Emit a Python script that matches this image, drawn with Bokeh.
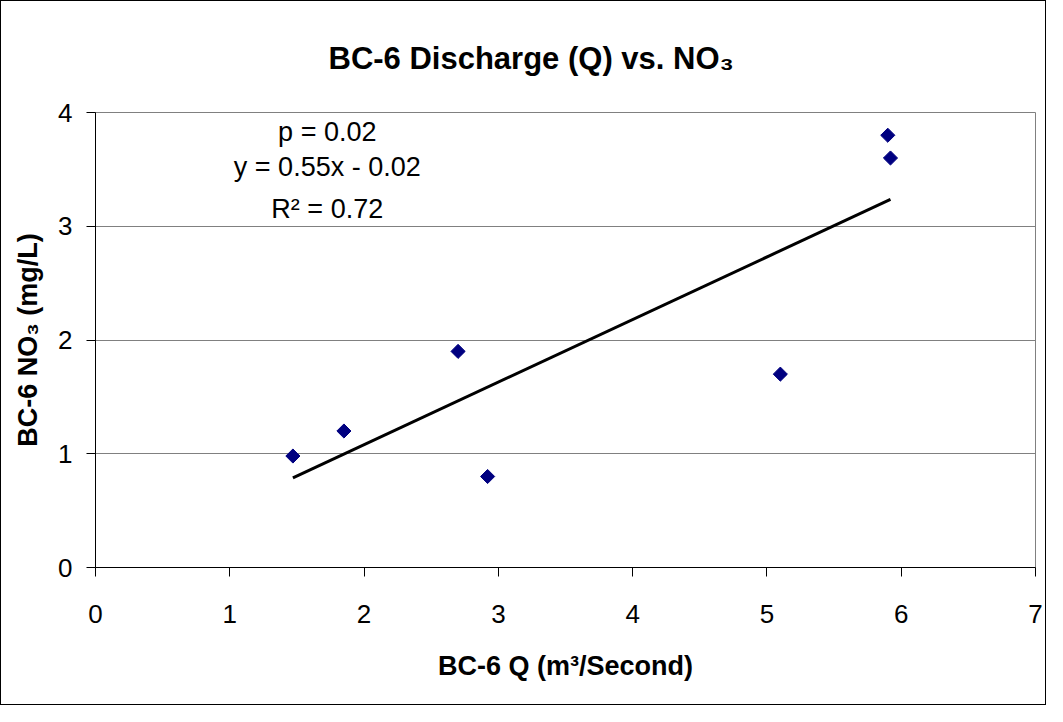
from bokeh.plotting import figure
from bokeh.models import Range1d, FixedTicker, Label, ColumnDataSource
from bokeh.embed import file_html
from bokeh.resources import INLINE
import math

# Data
discharge_q = [1.47, 1.85, 2.70, 2.92, 5.10, 5.90, 5.92]
no3_mgL = [0.98, 1.20, 1.90, 0.80, 1.70, 3.80, 3.60]
fit_slope = 0.55
fit_intercept = -0.02
stats_lines = ["p = 0.02", "y = 0.55x - 0.02", "R\u00b2 = 0.72"]
x_ticks = [0, 1, 2, 3, 4, 5, 6, 7]
y_ticks = [0, 1, 2, 3, 4]

FONT = "Liberation Sans"
W, H = 1046, 705

p = figure(width=W, height=H, output_backend="svg", toolbar_location=None,
           x_range=Range1d(0, 7), y_range=Range1d(0, 4),
           min_border_left=94, min_border_right=12, min_border_top=111, min_border_bottom=139)
p.styles = {"border": "1px solid black", "box-sizing": "border-box"}

p.title.text = "BC-6 Discharge (Q) vs. NO\u2083"
p.title.align = "left"
p.title.text_font = FONT
p.title.text_font_style = "bold"
p.title.text_font_size = "31px"
p.title.text_color = "black"
p.title.offset = 233
p.title.standoff = 74

p.background_fill_color = "white"
p.border_fill_color = "white"
p.outline_line_color = "#808080"
p.outline_line_width = 1

p.xgrid.visible = False
p.ygrid.grid_line_color = "#808080"
p.ygrid.grid_line_width = 1

for ax, ticks in ((p.xaxis[0], x_ticks), (p.yaxis[0], y_ticks)):
    ax.ticker = FixedTicker(ticks=ticks)
    ax.minor_tick_line_color = None
    ax.major_tick_in = 0
    ax.major_tick_out = 9
    ax.axis_line_color = "black"
    ax.major_tick_line_color = "black"
    ax.major_label_text_font = FONT
    ax.major_label_text_font_size = "26px"
    ax.major_label_text_color = "black"
    ax.axis_label_text_font = FONT
    ax.axis_label_text_font_style = "bold"
    ax.axis_label_text_font_size = "27px"
    ax.axis_label_text_color = "black"

p.xaxis.axis_label = "BC-6 Q (m\u00b3/Second)"
p.yaxis.axis_label = "BC-6 NO\u2083 (mg/L)"
p.xaxis.major_label_standoff = 28
p.yaxis.major_label_standoff = 14
p.xaxis.axis_label_standoff = 25
p.yaxis.axis_label_standoff = 12

# trend line over the data span
x0, x1 = min(discharge_q), max(discharge_q)
p.line([x0, x1], [fit_slope * x0 + fit_intercept, fit_slope * x1 + fit_intercept],
       line_color="black", line_width=3)

src = ColumnDataSource(dict(x=discharge_q, y=no3_mgL))
p.scatter("x", "y", source=src, marker="square", size=10, angle=math.pi / 4,
          fill_color="#000080", line_color="#000080")

# stats annotation
for txt, yy in zip(stats_lines, [3.83, 3.52, 3.15]):
    p.add_layout(Label(x=1.726, y=yy, text=txt, text_align="center", text_baseline="middle",
                       text_font=FONT, text_font_size="27px", text_color="black"))

open("out.html", "w").write(file_html(p, INLINE))
